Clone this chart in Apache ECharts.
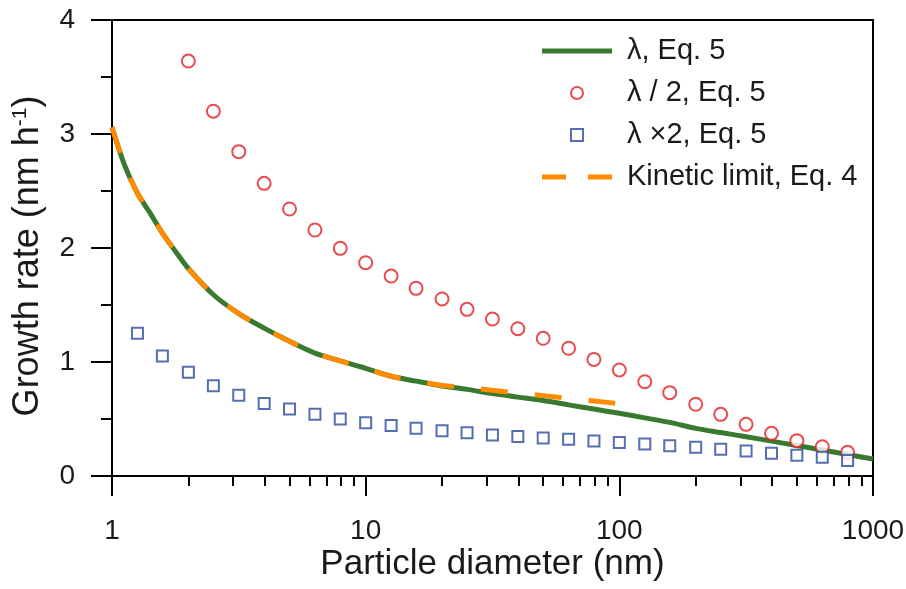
<!DOCTYPE html>
<html>
<head>
<meta charset="utf-8">
<script src="https://cdn.jsdelivr.net/npm/echarts@6/dist/echarts.min.js"></script>
<style>
  html, body { margin: 0; padding: 0; background: #fff; }
  #myChart { width: 906px; height: 589px; }
</style>
</head>
<body>
<div id="myChart"></div>
<script>
// particle diameters (nm) and growth rates (nm h-1)
const lineD = [1, 1.12, 1.26, 1.41, 1.58, 1.78, 2, 2.51, 3.16, 3.98, 5.01, 6.31, 7.94, 10, 12.6, 15.8, 20, 25.1, 31.6, 39.8, 50.1, 63.1, 79.4, 100, 126, 158, 200, 251, 316, 398, 501, 631, 794, 1000];
const lambdaGR = [3.06, 2.73, 2.48, 2.31, 2.13, 1.97, 1.82, 1.59, 1.425, 1.297, 1.181, 1.078, 1.01, 0.945, 0.875, 0.832, 0.79, 0.76, 0.723, 0.692, 0.662, 0.624, 0.587, 0.55, 0.51, 0.47, 0.418, 0.381, 0.345, 0.306, 0.267, 0.228, 0.188, 0.149];

const kineticD = [1, 1.12, 1.26, 1.41, 1.58, 1.78, 2, 2.51, 3.16, 3.98, 5.01, 6.31, 7.94, 10, 12.6, 15.8, 20, 25.1, 31.6, 39.8, 50.1, 63.1, 79.4, 100];
const kineticGR = [3.06, 2.73, 2.48, 2.31, 2.13, 1.97, 1.82, 1.59, 1.425, 1.297, 1.181, 1.078, 1.01, 0.945, 0.875, 0.834, 0.795, 0.775, 0.752, 0.728, 0.705, 0.681, 0.658, 0.635];

const halfD = [2, 2.51, 3.16, 3.98, 5.01, 6.31, 7.94, 10, 12.6, 15.8, 20, 25.1, 31.6, 39.8, 50.1, 63.1, 79.4, 100, 126, 158, 200, 251, 316, 398, 501, 631, 794];
const halfGR = [3.64, 3.2, 2.845, 2.567, 2.342, 2.158, 1.997, 1.871, 1.754, 1.646, 1.553, 1.462, 1.377, 1.292, 1.208, 1.12, 1.023, 0.93, 0.827, 0.731, 0.629, 0.541, 0.453, 0.374, 0.31, 0.257, 0.208];

const doubleD = [1.26, 1.58, 2, 2.51, 3.16, 3.98, 5.01, 6.31, 7.94, 10, 12.6, 15.8, 20, 25.1, 31.6, 39.8, 50.1, 63.1, 79.4, 100, 126, 158, 200, 251, 316, 398, 501, 631, 794];
const doubleGR = [1.252, 1.053, 0.909, 0.792, 0.708, 0.637, 0.588, 0.541, 0.5, 0.468, 0.443, 0.418, 0.398, 0.38, 0.36, 0.347, 0.333, 0.323, 0.308, 0.294, 0.281, 0.266, 0.252, 0.234, 0.219, 0.199, 0.181, 0.164, 0.135];

const majorTicksX = [1, 10, 100, 1000];
const minorTicksX = [2, 3, 4, 5, 6, 7, 8, 9, 20, 30, 40, 50, 60, 70, 80, 90, 200, 300, 400, 500, 600, 700, 800, 900];

const names = ["λ, Eq. 5", "λ / 2, Eq. 5", "λ ×2, Eq. 5", "Kinetic limit, Eq. 4"];

const font = "'Liberation Sans', Arial, sans-serif";
const ink = "#1a1a1a";

const pairs = function(xs, ys) {
  return xs.map((x, i) => [x, ys[i]]);
};

const myChart = echarts.init(document.getElementById("myChart"));

const option = {
  animation: false,
  backgroundColor: "#fff",
  grid: {
    left: 112,
    right: 33,
    top: 20,
    bottom: 113,
    show: true,
    borderColor: "#000",
    borderWidth: 2,
    outerBoundsMode: "none"
  },
  legend: {
    orient: "vertical",
    left: 542,
    top: 36,
    padding: 0,
    itemWidth: 70,
    itemHeight: 12,
    itemGap: 12,
    selectedMode: false,
    textStyle: {
      fontFamily: font,
      fontSize: 29,
      color: ink,
      lineHeight: 30,
      padding: [0, 0, 0, 10]
    },
    data: [
      { name: names[0], icon: "path://M0,0L70,0L70,5L0,5Z" },
      { name: names[1], icon: "circle" },
      { name: names[2], icon: "path://M0,0L10,0L10,10L0,10Z" },
      { name: names[3], icon: "path://M0,0L24,0L24,5L0,5ZM46,0L70,0L70,5L46,5Z" }
    ]
  },
  xAxis: [
    {
      type: "log",
      logBase: 10,
      min: 1,
      max: 1000,
      name: "Particle diameter (nm)",
      nameLocation: "middle",
      nameGap: 71,
      nameMoveOverlap: false,
      nameTextStyle: { fontFamily: font, fontSize: 35, color: ink },
      axisLine: { show: true, lineStyle: { color: "#000", width: 2 } },
      axisTick: {
        show: true,
        inside: false,
        length: 20,
        customValues: majorTicksX,
        lineStyle: { color: "#000", width: 2 }
      },
      axisLabel: {
        customValues: majorTicksX,
        margin: 41,
        fontFamily: font,
        fontSize: 28,
        color: ink,
        formatter: v => String(Math.round(v))
      },
      splitLine: { show: false },
      minorTick: { show: false }
    },
    {
      // minor ticks at 2..9 of each decade
      type: "log",
      logBase: 10,
      min: 1,
      max: 1000,
      position: "bottom",
      axisLine: { show: false },
      axisTick: {
        show: true,
        inside: false,
        length: 10,
        customValues: minorTicksX,
        lineStyle: { color: "#000", width: 2 }
      },
      axisLabel: { show: false },
      splitLine: { show: false }
    }
  ],
  yAxis: {
    type: "value",
    min: 0,
    max: 4,
    interval: 1,
    name: "Growth rate (nm h{sup|-1})",
    nameLocation: "middle",
    nameGap: 66,
    nameMoveOverlap: false,
    nameTextStyle: {
      fontFamily: font,
      fontSize: 36,
      color: ink,
      padding: [0, 16, 0, 0],
      rich: {
        sup: { fontFamily: font, fontSize: 21, color: ink, verticalAlign: "top" }
      }
    },
    axisLine: { show: true, lineStyle: { color: "#000", width: 2 } },
    axisTick: { show: true, inside: false, length: 21, lineStyle: { color: "#000", width: 2 } },
    minorTick: { show: true, splitNumber: 2, length: 11, lineStyle: { color: "#000", width: 2 } },
    axisLabel: { margin: 37, fontFamily: font, fontSize: 28, color: ink },
    splitLine: { show: false },
    minorSplitLine: { show: false }
  },
  series: [
    {
      name: names[0],
      type: "line",
      data: pairs(lineD, lambdaGR),
      symbol: "none",
      smooth: 0.3,
      lineStyle: { color: "#3a7a30", width: 5 },
      itemStyle: { color: "#3a7a30" },
      z: 2
    },
    {
      name: names[3],
      type: "line",
      data: pairs(kineticD, kineticGR),
      symbol: "none",
      smooth: 0.3,
      lineStyle: { color: "#ff8c00", width: 5, type: [27, 27] },
      itemStyle: { color: "#ff8c00" },
      z: 3
    },
    {
      name: names[1],
      type: "scatter",
      data: pairs(halfD, halfGR),
      symbol: "circle",
      symbolSize: 13,
      itemStyle: { color: "#fff", borderColor: "#e31e24", borderWidth: 2 },
      z: 4
    },
    {
      name: names[2],
      type: "scatter",
      data: pairs(doubleD, doubleGR),
      symbol: "rect",
      symbolSize: 11,
      itemStyle: { color: "#fff", borderColor: "#2a4a9c", borderWidth: 2 },
      z: 4
    }
  ]
};

myChart.setOption(option);
</script>
</body>
</html>
